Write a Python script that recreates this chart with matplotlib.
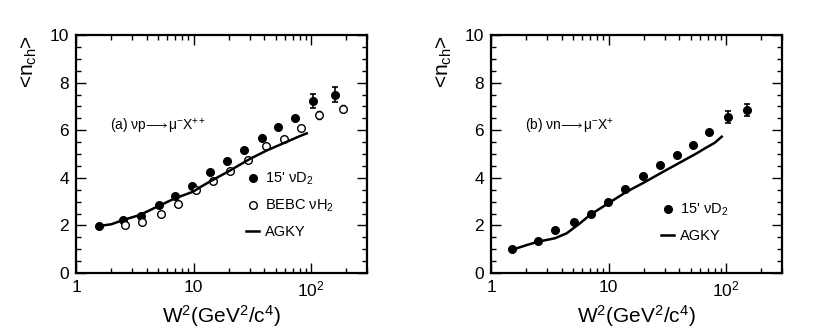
import matplotlib
matplotlib.use("Agg")
import matplotlib.pyplot as plt
from matplotlib.ticker import FixedLocator, FixedFormatter, MultipleLocator, LogLocator, NullFormatter

plt.rcParams['font.family'] = ['Liberation Sans', 'DejaVu Sans']
plt.rcParams['mathtext.fontset'] = 'custom'
plt.rcParams['mathtext.rm'] = 'Liberation Sans'
plt.rcParams['mathtext.it'] = 'Liberation Sans:italic'
plt.rcParams['mathtext.bf'] = 'Liberation Sans:bold'

# ---- Panel (a): nu p -> mu- X++ ----
a_d2_w2 = [1.57, 2.5, 3.57, 5.09, 7.0, 9.65, 13.7, 19.3, 27.1, 38.0, 52.0, 73.6, 104.7, 159.0]
a_d2_n = [1.99, 2.21, 2.38, 2.84, 3.24, 3.64, 4.25, 4.69, 5.19, 5.66, 6.14, 6.50, 7.23, 7.50]
a_d2_err = [0, 0, 0, 0, 0, 0, 0, 0, 0, 0, 0, 0, 0.30, 0.32]

a_h2_w2 = [2.61, 3.65, 5.29, 7.43, 10.4, 14.6, 20.4, 28.9, 41.1, 58.9, 82.2, 117.6, 186.0]
a_h2_n = [2.01, 2.15, 2.50, 2.91, 3.50, 3.87, 4.27, 4.73, 5.34, 5.65, 6.11, 6.64, 6.90]
a_h2_err = [0, 0, 0, 0, 0, 0, 0, 0, 0, 0, 0, 0.15, 0.15]

a_agky_w2 = [1.55, 2.0, 2.53, 3.5, 5.02, 6.96, 9.96, 11.5, 14.7, 20.0, 30.3, 42.0, 58.0, 80.0, 92.0]
a_agky_n = [1.97, 2.05, 2.23, 2.44, 2.81, 3.14, 3.42, 3.62, 3.92, 4.28, 4.80, 5.15, 5.45, 5.75, 5.87]

# ---- Panel (b): nu n -> mu- X+ ----
b_d2_w2 = [1.5, 2.5, 3.48, 5.09, 7.05, 9.97, 13.9, 19.7, 27.4, 38.0, 52.0, 72.0, 105.0, 152.0]
b_d2_n = [1.01, 1.33, 1.79, 2.14, 2.48, 2.99, 3.55, 4.08, 4.52, 4.97, 5.36, 5.92, 6.57, 6.85]
b_d2_err = [0, 0, 0, 0, 0, 0, 0, 0, 0, 0, 0, 0, 0.25, 0.25]

b_agky_w2 = [1.5, 2.0, 2.53, 3.5, 4.41, 5.72, 6.96, 9.96, 14.3, 20.0, 29.3, 56.3, 66.2, 80.0, 92.0]
b_agky_n = [0.97, 1.17, 1.32, 1.46, 1.67, 2.09, 2.44, 2.93, 3.42, 3.80, 4.26, 5.03, 5.24, 5.47, 5.73]

x_ticks = [1, 10, 100]
x_ticklabels = ['1', '10', '$10^2$']

fig = plt.figure(figsize=(8.3, 3.36), dpi=100)
ax1 = fig.add_axes([0.0916, 0.1875, 0.3506, 0.708])
ax2 = fig.add_axes([0.5916, 0.1875, 0.3506, 0.708])

ms = 5.5

def style(ax):
    ax.set_xscale('log')
    ax.set_xlim(1, 300)
    ax.set_ylim(0, 10)
    ax.xaxis.set_major_locator(FixedLocator(x_ticks))
    ax.xaxis.set_major_formatter(FixedFormatter(x_ticklabels))
    ax.xaxis.set_minor_locator(LogLocator(base=10, subs=range(2, 10)))
    ax.xaxis.set_minor_formatter(NullFormatter())
    ax.yaxis.set_major_locator(MultipleLocator(2))
    ax.yaxis.set_minor_locator(MultipleLocator(0.5))
    ax.tick_params(which='both', direction='in', top=True, right=True, width=1.0)
    ax.tick_params(which='major', length=7, labelsize=12.5, pad=5)
    ax.tick_params(which='minor', length=3.5)
    for s in ax.spines.values():
        s.set_linewidth(1.6)
    ax.set_xlabel(r'W$^2$(GeV$^2$/c$^4$)', fontsize=15, labelpad=2)
    ax.set_ylabel(r'<n$_{\rm ch}$>', fontsize=15, loc='top', labelpad=8)

style(ax1)
style(ax2)

# Panel (a)
ax1.errorbar(a_d2_w2, a_d2_n, yerr=a_d2_err, fmt='none', ecolor='black',
             elinewidth=1.2, capsize=2, capthick=1.2)
ax1.errorbar(a_h2_w2, a_h2_n, yerr=a_h2_err, fmt='none', ecolor='black',
             elinewidth=1.0, capsize=1.5)
h1, = ax1.plot(a_d2_w2, a_d2_n, 'o', color='black', ms=ms, label="15' νD$_2$")
h2, = ax1.plot(a_h2_w2, a_h2_n, 'o', color='black', mfc='white', ms=ms, mew=1.0,
               label='BEBC νH$_2$')
h3, = ax1.plot(a_agky_w2, a_agky_n, color='black', lw=1.8, label='AGKY')
ax1.text(1.95, 6.15, r'(a) νp$\!\longrightarrow\!$μ$^{-}$X$^{++}$', fontsize=10,
         va='center', ha='left')
ax1.legend(handles=[h1, h2, h3], loc='upper left', bbox_to_anchor=(0.585, 0.43),
           frameon=False, fontsize=10.5, handlelength=0.9, handletextpad=0.4,
           labelspacing=0.75, borderpad=0, borderaxespad=0)

# Panel (b)
ax2.errorbar(b_d2_w2, b_d2_n, yerr=b_d2_err, fmt='none', ecolor='black',
             elinewidth=1.2, capsize=2, capthick=1.2)
g1, = ax2.plot(b_d2_w2, b_d2_n, 'o', color='black', ms=ms, label="15' νD$_2$")
g3, = ax2.plot(b_agky_w2, b_agky_n, color='black', lw=1.8, label='AGKY')
ax2.text(1.95, 6.15, r'(b) νn$\!\longrightarrow\!$μ$^{-}$X$^{+}$', fontsize=10,
         va='center', ha='left')
ax2.legend(handles=[g1, g3], loc='upper left', bbox_to_anchor=(0.585, 0.30),
           frameon=False, fontsize=10.5, handlelength=0.9, handletextpad=0.4,
           labelspacing=0.75, borderpad=0, borderaxespad=0)

fig.savefig('out.png', dpi=100)
